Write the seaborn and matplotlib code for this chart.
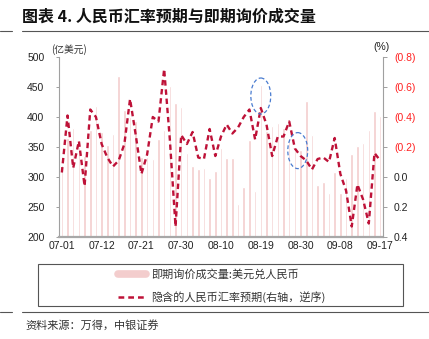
import numpy as np
import pandas as pd
import matplotlib
matplotlib.use("Agg")
import matplotlib.pyplot as plt
from matplotlib.patches import Ellipse, Rectangle
from matplotlib.lines import Line2D
import seaborn as sns

# Trading days, 2021-07-01 .. 2021-09-17
dates = pd.bdate_range("2021-07-01", "2021-09-17").strftime("%m-%d").tolist()

# Spot inquiry turnover, USD/CNY (100 million USD)
volume = [320, 365, 381, 350, 335, 378, 418, 375, 354, 371,
          468, 411, 400, 393, 333, 333, 330, 364, 378, 452,
          424, 417, 340, 318, 314, 315, 299, 310, 349, 331,
          331, 255, 284, 362, 277, 454, 376, 385, 390, 382,
          365, 345, 345, 427, 370, 287, 292, 273, 309, 274,
          298, 338, 352, 357, 379, 410, 402]

# Implied CNY exchange-rate expectation (%), right axis, inverted
expectation = [-0.03, -0.41, -0.06, -0.24, 0.06, -0.45, -0.40, -0.22, -0.13, -0.07,
               -0.11, -0.22, -0.52, -0.28, -0.02, -0.15, -0.40, -0.37, -0.72, -0.25,
               0.33, -0.28, -0.22, -0.30, -0.13, -0.12, -0.32, -0.14, -0.27, -0.35,
               -0.29, -0.33, -0.40, -0.45, -0.25, -0.46, -0.35, -0.14, -0.27, -0.27,
               -0.37, -0.19, -0.14, -0.11, -0.05, -0.12, -0.13, -0.10, -0.26, -0.02,
               0.09, 0.33, 0.05, 0.15, 0.31, -0.16, -0.11]

tick_labels = ["07-01", "07-12", "07-21", "07-30", "08-10",
               "08-19", "08-30", "09-08", "09-17"]
left_ticks = [200, 250, 300, 350, 400, 450, 500]
right_ticks = [-0.8, -0.6, -0.4, -0.2, 0.0, 0.2, 0.4]

# highlighted regions: (day index, volume level)
highlights = [(35, 435), (41.5, 344)]

bar_color = "#F3CDCD"
line_color = "#BE1238"
cjk = ["Noto Sans CJK SC", "DejaVu Sans"]

sns.set_theme(style="white")
plt.rcParams["font.family"] = ["Liberation Sans", "Noto Sans CJK SC", "DejaVu Sans"]

df = pd.DataFrame({"date": dates, "volume": volume,
                   "pos": np.arange(len(dates)), "expectation": expectation})

W, H = 429, 339
fig = plt.figure(figsize=(W / 100, H / 100), dpi=100)
ax = fig.add_axes([59 / W, 1 - 237 / H, (383 - 59) / W, 180 / H])

sns.barplot(data=df, x="date", y="volume", color=bar_color, saturation=1,
            width=0.45, errorbar=None, ax=ax, zorder=1)
ax.set_ylim(200, 500)
ax.set_yticks(left_ticks)
ax.set_xticks(np.arange(0, len(dates), 7))
ax.set_xticklabels(tick_labels)
ax.set_xlabel("")
ax.set_ylabel("")

ax2 = ax.twinx()
sns.lineplot(data=df, x="pos", y="expectation", ax=ax2, color=line_color,
             lw=1.7, linestyle=(0, (2.3, 1.6)))
ax2.set_ylim(0.4, -0.8)
ax2.set_yticks(right_ticks)
ax2.set_yticklabels([f"({abs(v):.1f})" if v < -1e-9 else f"{abs(v):.1f}"
                     for v in right_ticks])
for lab, v in zip(ax2.get_yticklabels(), right_ticks):
    lab.set_color("#FF2020" if v < -1e-9 else "#222222")
ax2.set_xlabel("")
ax2.set_ylabel("")
ax.set_xlim(-0.5, len(dates) - 0.5)
ax2.set_xlim(-0.5, len(dates) - 0.5)

# spines and ticks
for s in ["top", "right"]:
    ax.spines[s].set_visible(False)
for s in ["top", "left", "bottom"]:
    ax2.spines[s].set_visible(False)
ax.spines["left"].set_color("#A0A0A0")
ax.spines["left"].set_linewidth(0.8)
ax.spines["bottom"].set_color("#A8A8A8")
ax.spines["bottom"].set_linewidth(1.6)
ax2.spines["right"].set_color("#A0A0A0")
ax2.spines["right"].set_linewidth(0.8)
ax.tick_params(axis="y", left=True, direction="out", length=2.5, width=0.7,
               color="#A0A0A0", pad=8, labelsize=7.5, labelcolor="#222222")
ax.tick_params(axis="x", bottom=False, length=0, pad=3, labelsize=7.5,
               labelcolor="#222222")
ax2.tick_params(axis="y", right=True, direction="out", length=3, width=0.7,
                color="#A0A0A0", pad=5, labelsize=7.5)

# dashed highlight ellipses (in pixels: 20 wide, 36 tall)
for cx, cy in highlights:
    y_axis = -0.8 + (237 - 57 - (cy - 200) * 0.6) / 150
    ax2.add_patch(Ellipse((cx, y_axis), width=3.5, height=0.24, fill=False,
                          ec="#4A7CD0", lw=0.9, ls=(0, (3, 2)), zorder=5))

# axis units
fig.text(51 / W, 1 - 50 / H, "(亿美元)", fontsize=7, family=cjk,
         color="#333333", va="center", ha="left")
fig.text(381 / W, 1 - 47 / H, "(%)", fontsize=7.5, color="#222222",
         va="center", ha="center")

# title and rules
fig.text(22 / W, 1 - 17 / H, "图表 4. 人民币汇率预期与即期询价成交量", fontsize=11.5,
         fontweight="bold", family=cjk, color="#111111", va="center", ha="left")
for yy in (30.5, 312):
    fig.add_artist(Line2D([22 / W, 1], [1 - yy / H] * 2, color="#555555", lw=0.8))
    fig.add_artist(Line2D([0, 12 / W], [1 - yy / H] * 2, color="#555555", lw=0.8))

# legend box
fig.add_artist(Rectangle((38 / W, 1 - 306 / H), 365 / W, 42 / H, fill=False,
                         ec="#555555", lw=0.8, transform=fig.transFigure))
handles = [Line2D([], [], color=bar_color, lw=5.5),
           Line2D([], [], color=line_color, lw=1.8, ls=(0, (2.3, 1.6)))]
labels = ["即期询价成交量:美元兑人民币", "隐含的人民币汇率预期(右轴，逆序)"]
leg = fig.legend(handles, labels, loc="center",
                 bbox_to_anchor=(222 / W, 1 - 286 / H), frameon=False,
                 prop={"family": cjk, "size": 8}, handlelength=2.5,
                 handletextpad=0.45, labelspacing=0.95)
for t in leg.get_texts():
    t.set_color("#333333")

# source
fig.text(25 / W, 1 - 325 / H, "资料来源：万得，中银证券", fontsize=8, family=cjk,
         style="italic", color="#333333", va="center", ha="left")

fig.savefig("out.png", dpi=100)
